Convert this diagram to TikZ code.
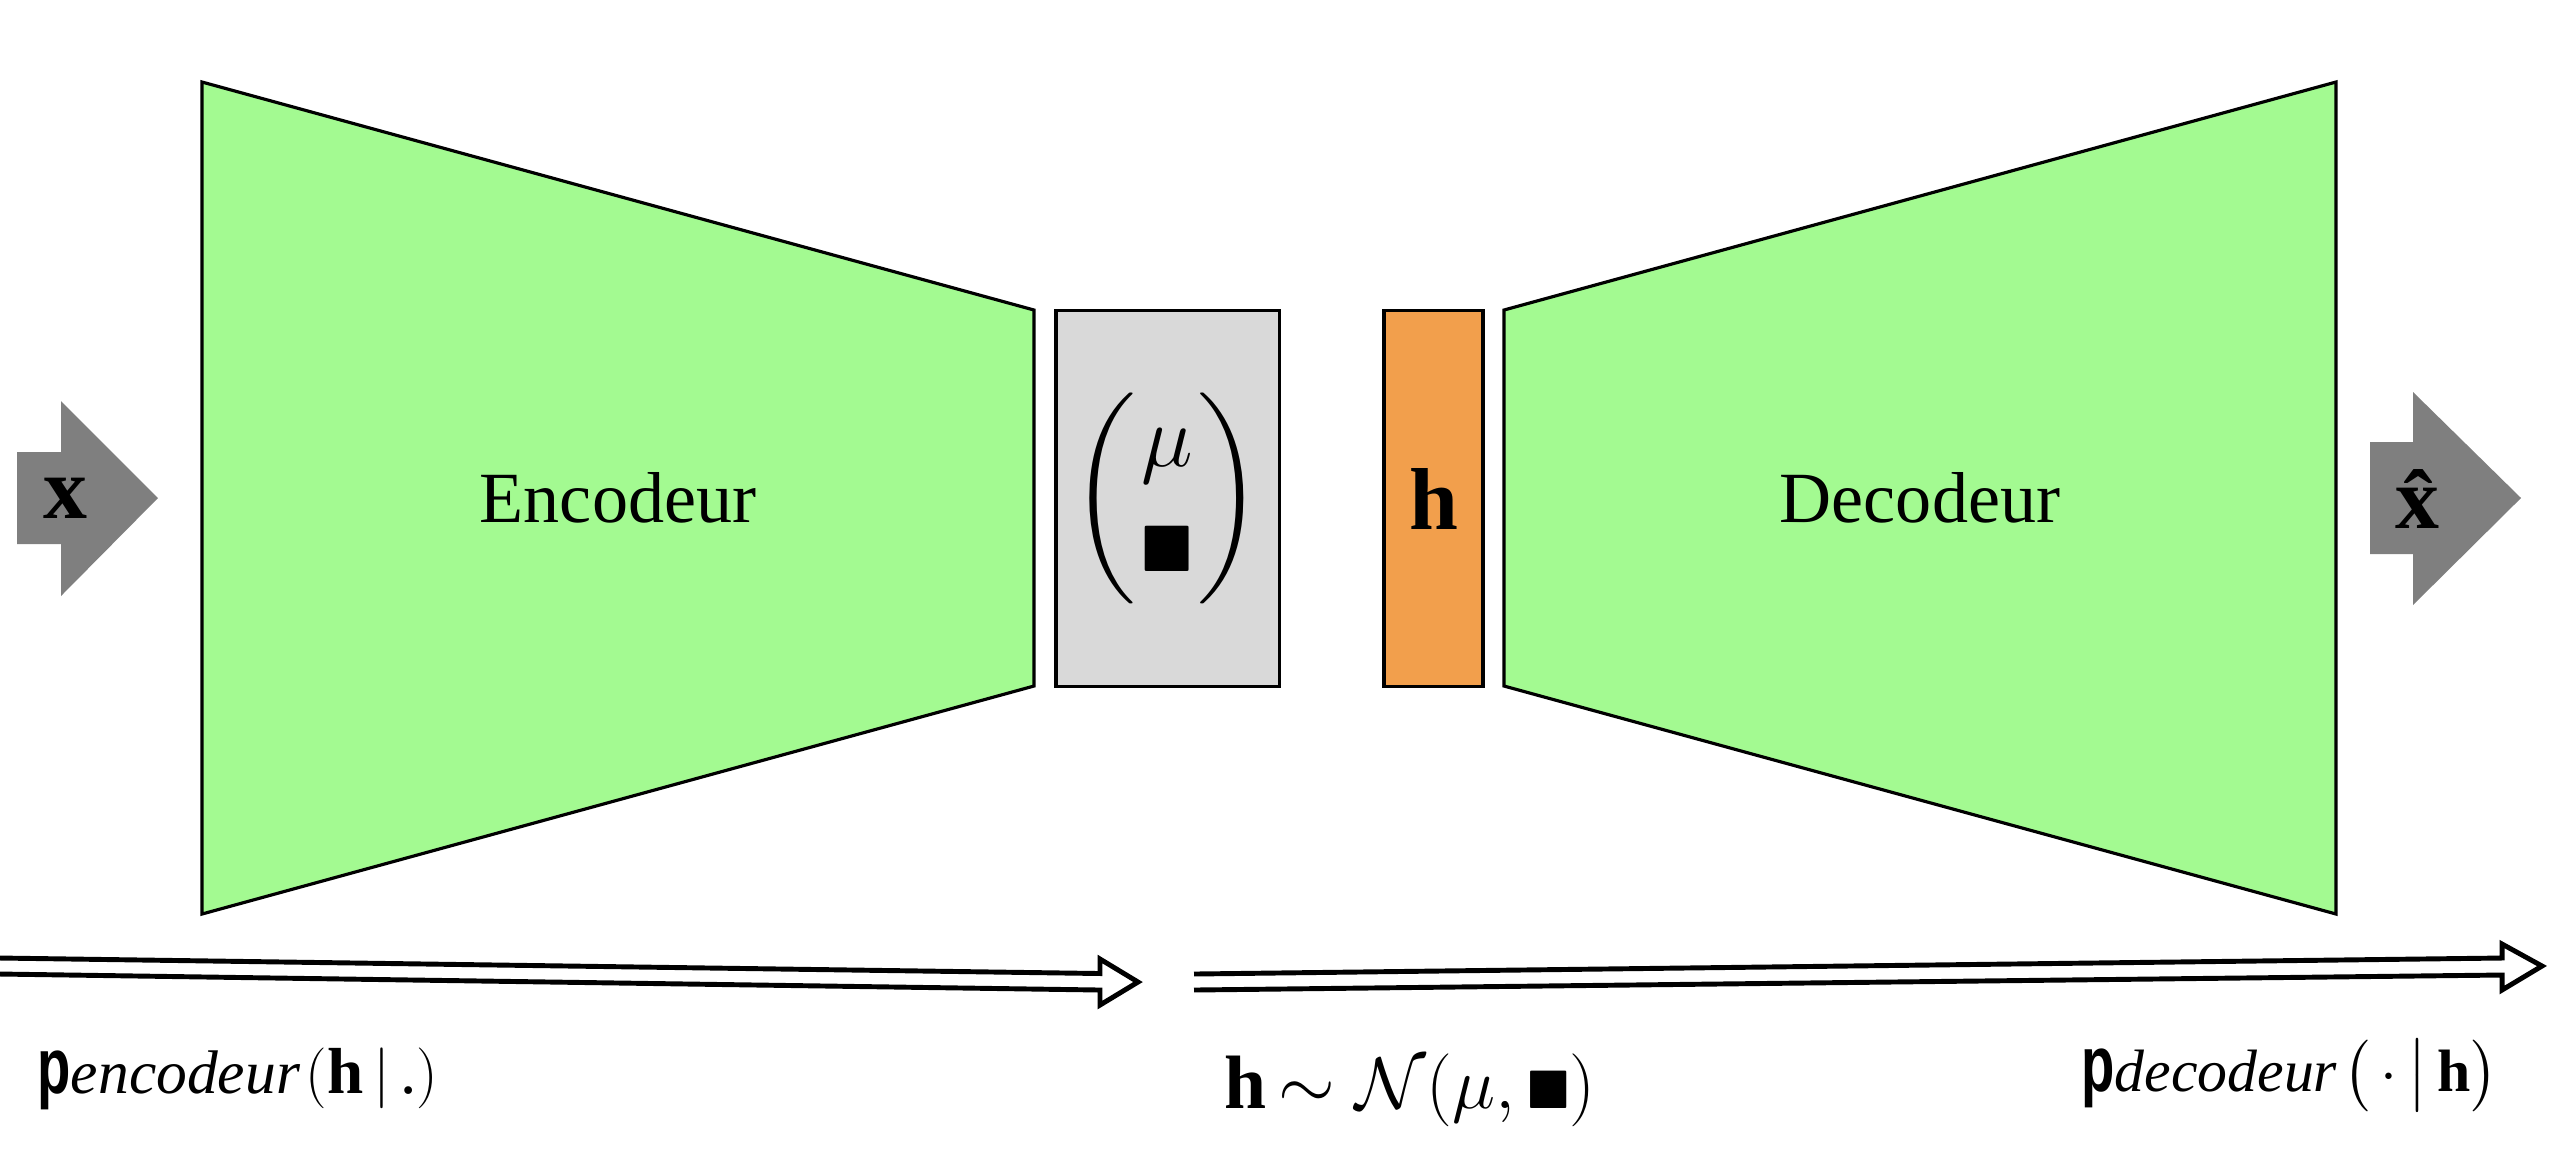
\documentclass[tikz,border=0pt]{standalone}
\usepackage{amsmath,amssymb}
\usepackage{graphicx}
\usepackage{fontspec}
\setmainfont{Liberation Serif}
\setsansfont{Liberation Sans}
\definecolor{netgreen}{HTML}{A3FA91}
\definecolor{latorange}{HTML}{F29F4C}
\definecolor{boxgrey}{HTML}{D9D9D9}
\definecolor{arrgrey}{HTML}{7F7F7F}
\newcommand\boldp{\scalebox{1}[1.45]{\fontsize{15.5}{18}\selectfont\sffamily\bfseries p}}
\begin{document}
\begin{tikzpicture}[x=0.01cm,y=-0.01cm,
  netshape/.style={draw=black,fill=netgreen,line width=0.9pt,line join=miter},
  latbox/.style={draw=black,line width=0.9pt,inner sep=0pt,minimum height=3.75cm},
  bigarrow/.style={fill=arrgrey,draw=none},
  flowarrow/.style={draw=black,line width=1.4pt,line join=miter},
  lbl/.style={inner sep=0pt,font=\fontsize{20.5}{24}\selectfont},
  bigsym/.style={inner sep=0pt,font=\fontsize{25}{30}\selectfont\bfseries}]
\useasboundingbox (0,0) rectangle (2558,1150);

% encoder / decoder
\draw[netshape] (202,82) -- (1034,310) -- (1034,686) -- (202,914) -- cycle;
\draw[netshape] (1504,310) -- (2336,82) -- (2336,914) -- (1504,686) -- cycle;
\node[lbl,anchor=base] (enc) at (618,522) {Encodeur};
\node[lbl,anchor=base] (dec) at (1920,522) {Decodeur};

% latent boxes
\node[latbox,fill=boxgrey,minimum width=2.23cm] (musig) at (1167.5,498.5) {};
\node[inner sep=0pt] (mulab) at (1167,498)
  {\fontsize{25}{30}\selectfont$\biggl(\hspace{0.05cm}\begin{array}{@{}c@{}}\mu\\\scalebox{0.75}{$\blacksquare$}\end{array}\hspace{0.05cm}\biggr)$};
\node[latbox,fill=latorange,minimum width=0.99cm,font=\fontsize{25}{30}\selectfont\bfseries] (hbox) at (1433.5,498.5) {h};

% input / output arrows
\draw[bigarrow] (17,452) -- (61,452) -- (61,401) -- (158,498) -- (61,596) -- (61,544) -- (17,544) -- cycle;
\node[bigsym,anchor=base] (xin) at (65,518) {x};
\draw[bigarrow] (2370,442) -- (2413,442) -- (2413,392) -- (2521,498) -- (2413,605) -- (2413,554) -- (2370,554) -- cycle;
\node[bigsym,anchor=base] (xout) at (2417,528) {\^{x}};

% flow arrows
\coordinate (e0) at (0,958);
\coordinate (e1) at (0,974);
\draw[flowarrow] (e0) -- (1100,973.5) -- (1100,959) -- (1138,982) -- (1100,1005) -- (1100,990) -- (e1);
\coordinate (d0) at (1194,974);
\coordinate (d1) at (1194,990);
\draw[flowarrow] (d0) -- (2502,958) -- (2502,944) -- (2542,966) -- (2502,990) -- (2502,975) -- (d1);

% labels
\node[inner sep=0pt,anchor=base west] (penc) at (37,1093)
  {\boldp{\fontsize{17.5}{20}\selectfont\itshape encodeur}\,{\fontsize{18.5}{22}\selectfont$($\textbf{h}$\,|\,$.$)$}};
\node[inner sep=0pt,anchor=base] (dist) at (1410,1108)
  {\fontsize{21.5}{26}\selectfont\textbf{h}$\,\sim\mathcal{N}(\mu,\scalebox{0.72}{$\blacksquare$})$};
\node[inner sep=0pt,anchor=base east] (pdec) at (2499,1091)
  {\boldp{\fontsize{17}{20}\selectfont\itshape decodeur}\,{\fontsize{17}{20}\selectfont$\bigl(\,\cdot\,\big|\,$\textbf{h}$\bigr)$}};
\end{tikzpicture}
\end{document}
